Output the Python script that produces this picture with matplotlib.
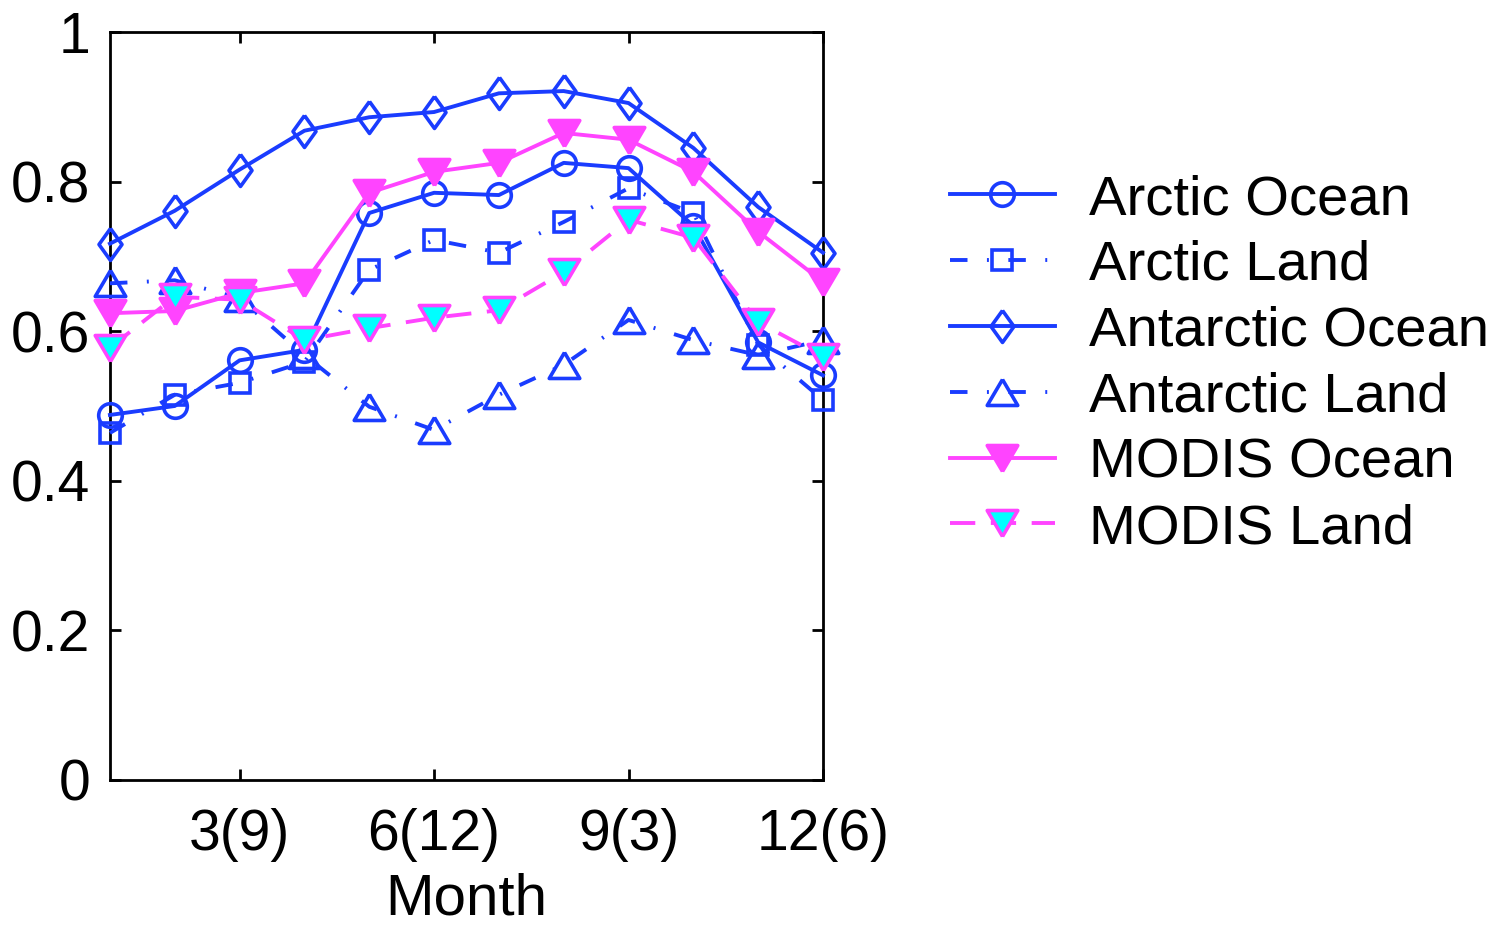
import matplotlib
matplotlib.use("Agg")
import matplotlib.pyplot as plt

plt.rcParams["font.family"] = ["Liberation Sans", "DejaVu Sans"]

months = list(range(1, 13))

arctic_ocean = [0.488, 0.500, 0.561, 0.575, 0.758, 0.785, 0.782, 0.825, 0.818, 0.741, 0.585, 0.541]
arctic_land = [0.464, 0.515, 0.531, 0.559, 0.682, 0.722, 0.705, 0.746, 0.791, 0.758, 0.582, 0.508]
antarctic_ocean = [0.717, 0.761, 0.816, 0.868, 0.886, 0.893, 0.918, 0.921, 0.905, 0.845, 0.766, 0.705]
antarctic_land = [0.664, 0.668, 0.644, 0.568, 0.499, 0.468, 0.515, 0.555, 0.615, 0.588, 0.568, 0.588]
modis_ocean = [0.624, 0.627, 0.651, 0.664, 0.785, 0.813, 0.825, 0.865, 0.856, 0.813, 0.733, 0.666]
modis_land = [0.578, 0.646, 0.642, 0.588, 0.604, 0.618, 0.628, 0.679, 0.749, 0.725, 0.612, 0.566]

xtick_pos = [3, 6, 9, 12]
xtick_labels = ["3(9)", "6(12)", "9(3)", "12(6)"]
yticks = [0, 0.2, 0.4, 0.6, 0.8, 1]

blue = "#1a3cff"
magenta = "#ff44ff"
cyan = "#00ffff"
dashdot = (0, (4.5, 5, 0.5, 5))
dashed = (0, (6.5, 4))
# MATLAB-style marker shapes
diamond = [(0, 1), (0.72, 0), (0, -1), (-0.72, 0), (0, 1)]
tri_up = [(0, 0.85), (1, -0.85), (-1, -0.85), (0, 0.85)]
tri_down = [(0, -0.85), (1, 0.85), (-1, 0.85), (0, -0.85)]

fig = plt.figure(figsize=(15.04, 9.27), dpi=100)
ax = fig.add_axes([0.0731, 0.1586, 0.4741, 0.8069])

common = dict(lw=2.8, mew=2.6, clip_on=False)
ax.plot(months, arctic_ocean, color=blue, marker="o", ms=17, mfc="none", label="Arctic Ocean", **common)
ax.plot(months, arctic_land, color=blue, ls=dashdot, marker="s", ms=14, mfc="none", label="Arctic Land", **common)
ax.plot(months, antarctic_ocean, color=blue, marker=diamond, ms=23, mfc="none", label="Antarctic Ocean", **common)
ax.plot(months, antarctic_land, color=blue, ls=dashdot, marker=tri_up, ms=22, mfc="none", label="Antarctic Land", **common)
ax.plot(months, modis_ocean, color=magenta, marker=tri_down, ms=22, mfc=magenta, label="MODIS Ocean", **common)
ax.plot(months, modis_land, color=magenta, ls=dashed, marker=tri_down, ms=22, mfc=cyan, label="MODIS Land", **common)

ax.set_xlim(1, 12)
ax.set_ylim(0, 1)
ax.set_xticks(xtick_pos)
ax.set_xticklabels(xtick_labels)
ax.set_yticks(yticks)
ax.set_yticklabels(["0", "0.2", "0.4", "0.6", "0.8", "1"])
ax.tick_params(direction="in", length=8, width=2, labelsize=41, top=True, right=True)
ax.tick_params(axis="x", pad=20)
ax.tick_params(axis="y", pad=14)
for s in ax.spines.values():
    s.set_linewidth(2)
    s.set_zorder(0.5)
ax.set_xlabel("Month", fontsize=42, labelpad=8)

leg = ax.legend(loc="upper left", bbox_to_anchor=(1.178, 0.81), frameon=False, fontsize=40.5,
                handlelength=1.86, handletextpad=0.62, labelspacing=0.245, numpoints=1,
                borderaxespad=0, borderpad=0)

fig.savefig("out.png", dpi=100)
